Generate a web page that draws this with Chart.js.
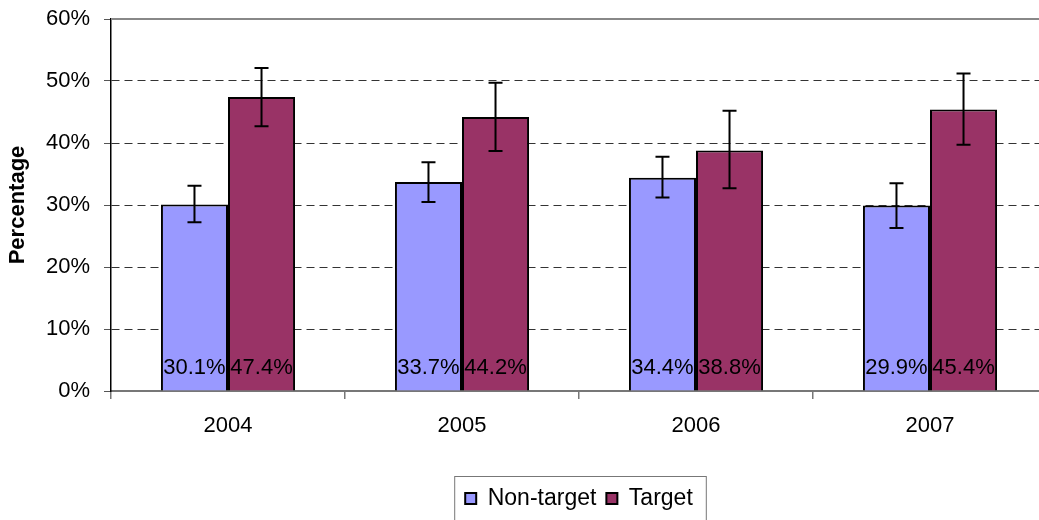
<!DOCTYPE html>
<html>
<head>
<meta charset="utf-8">
<script src="https://cdn.jsdelivr.net/npm/chart.js@4/dist/chart.umd.min.js"></script>
<style>
  html, body { margin:0; padding:0; overflow:hidden; background:#fff; }
  #wrap { width:1060px; height:520px; position:relative; }
</style>
</head>
<body>
<div id="wrap"><canvas id="pctChart"></canvas></div>
<script>
// values in percent
const years = ['2004', '2005', '2006', '2007'];
const nonTarget = [30.1, 33.7, 34.4, 29.9];
const nonTargetLow = [27.2, 30.5, 31.2, 26.3];
const nonTargetHigh = [33.1, 36.9, 37.8, 33.5];
const target = [47.4, 44.2, 38.8, 45.4];
const targetLow = [42.7, 38.7, 32.7, 39.7];
const targetHigh = [52.1, 49.7, 45.2, 51.2];
const yTicks = [0, 10, 20, 30, 40, 50, 60];

const errLow = [nonTargetLow, targetLow];
const errHigh = [nonTargetHigh, targetHigh];

Chart.defaults.font.family = '"Liberation Sans", Arial, sans-serif';
Chart.defaults.color = '#000';

// error bars + value labels near the base of each bar
const barExtras = {
  id: 'barExtras',
  afterDatasetsDraw(chart){
    const {ctx, scales:{y}} = chart;
    ctx.save();
    chart.data.datasets.forEach((ds, di) => {
      const meta = chart.getDatasetMeta(di);
      meta.data.forEach((bar, i) => {
        const yHi = y.getPixelForValue(errHigh[di][i]);
        const yLo = y.getPixelForValue(errLow[di][i]);
        ctx.strokeStyle = '#000';
        ctx.lineWidth = 2;
        ctx.beginPath();
        ctx.moveTo(bar.x, yHi); ctx.lineTo(bar.x, yLo);
        ctx.moveTo(bar.x - 7, yHi); ctx.lineTo(bar.x + 7, yHi);
        ctx.moveTo(bar.x - 7, yLo); ctx.lineTo(bar.x + 7, yLo);
        ctx.stroke();
        ctx.fillStyle = '#000';
        ctx.font = '22px "Liberation Sans", Arial, sans-serif';
        ctx.textAlign = 'center';
        ctx.textBaseline = 'alphabetic';
        ctx.fillText(ds.data[i].toFixed(1) + '%', bar.x, y.getPixelForValue(0) - 17);
      });
    });
    ctx.restore();
  }
};

// top border of plot area and box round the legend
const frame = {
  id: 'frame',
  afterDraw(chart){
    const {ctx, chartArea:a} = chart;
    ctx.save();
    ctx.strokeStyle = '#888';
    ctx.lineWidth = 2;
    ctx.beginPath();
    ctx.moveTo(a.left, a.top); ctx.lineTo(a.right, a.top);
    ctx.stroke();
    const hb = chart.legend.legendHitBoxes;
    if (hb && hb.length){
      const last = hb[hb.length - 1];
      const l = hb[0].left - 11, r = last.left + last.width + 13;
      const t = hb[0].top - 11, b = t + 44;
      ctx.strokeStyle = '#777';
      ctx.lineWidth = 1;
      ctx.strokeRect(l + .5, t + .5, r - l, b - t);
    }
    ctx.restore();
  }
};

new Chart(document.getElementById('pctChart'), {
  type: 'bar',
  data: {
    labels: years,
    datasets: [
      { label:'Non-target', data:nonTarget, backgroundColor:'#9999FF', borderColor:'#000', borderWidth:2 },
      { label:'Target', data:target, backgroundColor:'#993366', borderColor:'#000', borderWidth:2 }
    ]
  },
  options: {
    responsive:true,
    maintainAspectRatio:false,
    animation:false,
    categoryPercentage:0.573,
    barPercentage:1,
    layout:{ padding:{ top:19, right:13, left:0, bottom:0 } },
    plugins:{
      legend:{
        position:'bottom',
        fullSize:false,
        labels:{ boxWidth:11, boxHeight:11, padding:10, font:{ size:23 }, color:'#000' }
      },
      tooltip:{ enabled:false }
    },
    scales:{
      x:{
        grid:{ display:true, drawOnChartArea:false, offset:true, color:'#777', tickLength:8, lineWidth:1.5 },
        border:{ color:'#777', width:2 },
        ticks:{ font:{ size:22 }, padding:14, color:'#000' },
        afterFit(s){ s.height = 86; }
      },
      y:{
        min:0, max:60,
        afterBuildTicks(s){ s.ticks = yTicks.map(v => ({ value:v })); },
        ticks:{ font:{ size:22 }, padding:14, color:'#000', callback:v => v + '%' },
        grid:{
          color:c => (c.tick && (c.tick.value === 0 || c.tick.value === 60)) ? 'rgba(0,0,0,0)' : '#333',
          tickColor:'#555', tickLength:7, lineWidth:1
        },
        border:{ color:'#000', width:1.5, dash:[8,5] },
        title:{ display:true, text:'Percentage', font:{ size:22, weight:'bold' }, padding:{ top:5, bottom:0 } },
        afterFit(s){ s.width = 111; s.paddingTop = 0; s.paddingBottom = 0; }
      }
    }
  },
  plugins:[barExtras, frame]
});
</script>
</body>
</html>
